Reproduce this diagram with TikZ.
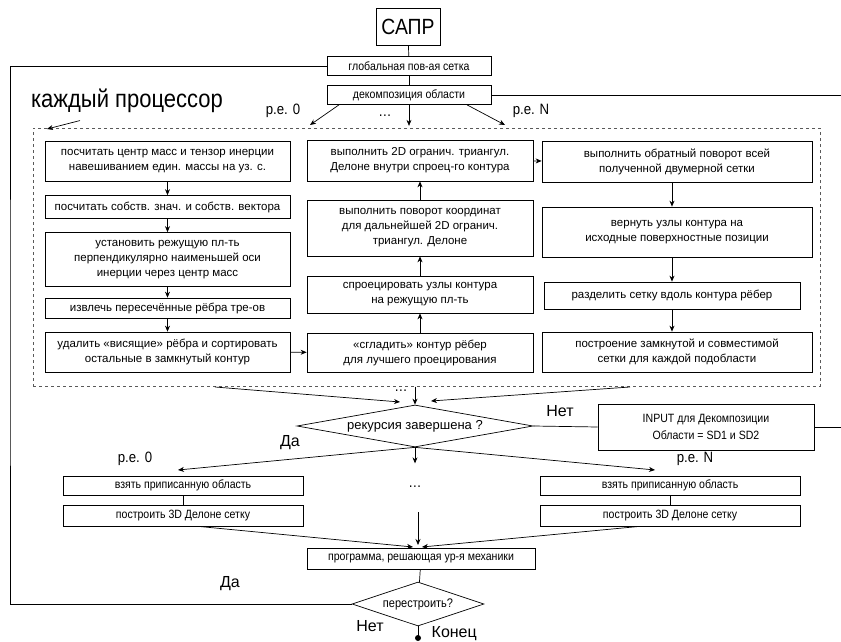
\documentclass[tikz,border=0pt]{standalone}
\usepackage{fontspec}
\setmainfont{Liberation Sans}
\newfontfamily\narrowfont[FakeStretch=0.88]{Liberation Sans}
\usetikzlibrary{arrows.meta,positioning,shapes.geometric}

\begin{document}
\begin{tikzpicture}[x=1pt,y=-1pt,>={Stealth[length=6pt,width=5pt]},line width=.7pt,
    stepbox/.style={draw,align=center,inner sep=0pt,font=\fontsize{11.5}{15}\selectfont},
    smallbox/.style={draw,align=center,inner sep=0pt,font=\narrowfont\fontsize{12}{13}\selectfont},
    decision/.style={diamond,draw,aspect=5,inner sep=0pt},
    lbl/.style={font=\narrowfont\fontsize{15}{17}\selectfont},
    biglbl/.style={font=\fontsize{16}{18}\selectfont}]
  \useasboundingbox (0,0) rectangle (841,642);
  % top
  \node[draw,minimum width=64,minimum height=37,inner sep=0pt,font=\narrowfont\fontsize{22}{24}\selectfont] (sapr) at (408,27) {САПР};
  \node[smallbox,minimum width=164,minimum height=19] (glob) at (409,66) {глобальная пов-ая сетка};
  \node[smallbox,minimum width=164,minimum height=19] (dec) at (409,95) {декомпозиция области};
  \draw (sapr) -- (glob);\draw (glob) -- (dec);
  \node[font=\narrowfont\fontsize{25}{27}\selectfont] (kp) at (127,101) {каждый процессор};
  \node[lbl] (pe0) at (283,111) {р.е. 0};
  \node[lbl] (peN) at (531,111) {р.е. N};
  \node[lbl] (dots1) at (385,116) {…};
  % processor block
  \node[draw,dashed,gray!70!black,minimum width=787,minimum height=258,inner sep=0pt] (proc) at (426.5,257) {};
  \coordinate (kpend) at (47,129);
  \coordinate (d0) at (310,125);\coordinate (dN) at (505,125);
  \draw[->] (kp.south) ++(-47,4) -- (kpend);
  \draw[->] ([xshift=-70]dec.south) -- (d0);
  \draw[->] (dec.south) -- ++(0,21);
  \draw[->] ([xshift=58]dec.south) -- (dN);
  % left column
  \node[stepbox,minimum width=245,minimum height=40] (b1) at (167.5,161) {посчитать центр масс и тензор инерции\\навешиванием един. массы на уз. с.};
  \node[stepbox,minimum width=245,minimum height=23] (b2) at (167.5,207) {посчитать собств. знач. и собств. вектора};
  \node[stepbox,minimum width=245,minimum height=54] (b3) at (167.5,259.5) {установить режущую пл-ть\\перпендикулярно наименьшей оси\\инерции через центр масс};
  \node[stepbox,minimum width=245,minimum height=20] (b4) at (167.5,308) {извлечь пересечённые рёбра тре-ов};
  \node[stepbox,minimum width=245,minimum height=40] (b5) at (167.5,352) {удалить «висящие» рёбра и сортировать\\остальные в замкнутый контур};
  % middle column
  \node[stepbox,minimum width=226,minimum height=41] (m1) at (420,160.5) {выполнить 2D огранич. триангул.\\Делоне внутри спроец-го контура};
  \node[stepbox,minimum width=226,minimum height=56] (m2) at (420,228) {выполнить поворот координат\\для дальнейшей 2D огранич.\\триангул. Делоне};
  \node[stepbox,minimum width=226,minimum height=37] (m3) at (420,294.5) {спроецировать узлы контура\\на режущую пл-ть};
  \node[stepbox,minimum width=226,minimum height=39] (m4) at (420,352.5) {«сгладить» контур рёбер\\для лучшего проецирования};
  % right column
  \node[stepbox,minimum width=270,minimum height=41] (r1) at (677,161.5) {выполнить обратный поворот всей\\полученной двумерной сетки};
  \node[stepbox,minimum width=270,minimum height=50] (r2) at (677,232) {вернуть узлы контура на\\исходные поверхностные позиции};
  \node[stepbox,minimum width=256,minimum height=27] (r3) at (672,295.5) {разделить сетку вдоль контура рёбер};
  \node[stepbox,minimum width=270,minimum height=40] (r4) at (677,352) {построение замкнутой и совместимой\\сетки для каждой подобласти};
  \foreach \a/\b in {b1/b2,b2/b3,b3/b4,b4/b5,m4/m3,m3/m2,m2/m1}
    \draw[->] (\a) -- (\b);
  \foreach \a/\b in {r1/r2,r2/r3,r3/r4}
    \draw[->] (\a.south -| r3.north) -- (\b.north -| r3.north);
  \draw[->] (b5) -- (m4);
  \draw[->] (m1) -- (r1);
  % recursion
  \node[decision,minimum width=236,minimum height=42,font=\fontsize{13}{15}\selectfont] (rec) at (415,426) {рекурсия завершена ?};
  \coordinate (in0) at (215,387);\coordinate (inN) at (630,387);
  \coordinate (rin0) at (400,402);\coordinate (rinN) at (431,401);
  \node[lbl] (dots2) at (401,391) {…};
  \draw[->] (in0) -- (rin0);
  \draw[->] (inN) -- (rinN);
  \draw[->] (rec.north) ++(0,-18) -- (rec.north);
  \node[biglbl] (no1) at (560,411) {Нет};
  \node[smallbox,minimum width=216,minimum height=46,font=\narrowfont\fontsize{12}{17}\selectfont] (inp) at (706,427) {INPUT для Декомпозиции\\Области = SD1 и SD2};
  \coordinate (rt2) at (841,427);
  \draw (rec.east) -- (inp.west);
  \draw (inp.east) -- (rt2);
  \coordinate (rt1) at (841,95);
  \draw (dec.east) -- (rt1);
  % per-processor meshing
  \node[biglbl] (yes1) at (290,443) {Да};
  \node[lbl] (pe0b) at (135,459) {р.е. 0};
  \node[lbl] (peNb) at (695,459) {р.е. N};
  \coordinate (t0) at (178,470);\coordinate (tN) at (655,470);
  \draw[->] (rec.south) -- (t0);
  \draw[->] (rec.south) -- (tN);
  \draw[->] (rec.south) -- ++(0,16);
  \node[smallbox,minimum width=240,minimum height=19] (take0) at (183,485.5) {взять приписанную область};
  \node[smallbox,minimum width=240,minimum height=21] (build0) at (183,515.5) {построить 3D Делоне сетку};
  \node[smallbox,minimum width=260,minimum height=19] (takeN) at (670,485.5) {взять приписанную область};
  \node[smallbox,minimum width=260,minimum height=21] (buildN) at (670,515.5) {построить 3D Делоне сетку};
  \node[lbl] (dots3) at (415,487) {…};
  \draw (take0) -- (build0);\draw (takeN) -- (buildN);
  % solver
  \node[smallbox,minimum width=228,minimum height=21] (prog) at (421,558.5) {программа, решающая ур-я механики};
  \coordinate (p0) at (413,547);\coordinate (pN) at (422,547);
  \draw[->] ([xshift=15]build0.south) -- (p0);
  \draw[->] ([xshift=-30]buildN.south) -- (pN);
  \draw[->] (418,512) -- (418,545);
  \node[decision,minimum width=132,minimum height=44,font=\narrowfont\fontsize{12.5}{14}\selectfont] (reb) at (418,604) {перестроить?};
  \draw (prog) -- (reb);
  \coordinate (lft) at (10,330);
  \draw (glob.west) -| (lft) |- (reb.west);
  \node[biglbl] (yes2) at (230,584) {Да};
  \node[biglbl] (no2) at (370,626) {Нет};
  \coordinate (fin) at (418,638);
  \draw (reb.south) -- (fin);
  \fill (fin) circle (3);
  \node[biglbl,anchor=west] (endlbl) at (428,634) {Конец};
\end{tikzpicture}
\end{document}
